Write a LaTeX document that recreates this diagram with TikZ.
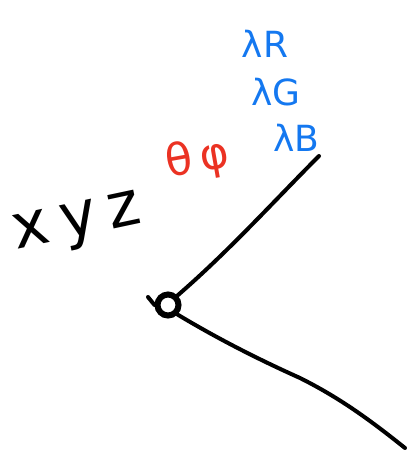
\documentclass[tikz,border=0pt]{standalone}
\usepackage{fontspec}
\setmainfont{DejaVu Sans}
\definecolor{penred}{RGB}{235,50,35}
\definecolor{penblue}{RGB}{20,120,240}
\begin{document}
\begin{tikzpicture}[x=1pt,y=-1pt,
  stroke/.style={line width=4pt,line cap=round,line join=round},
  lbl/.style={inner sep=0pt,font=\fontsize{36}{36}\selectfont}]
\useasboundingbox (0,0) rectangle (410,456);
\node[lbl,rotate=12,font=\fontsize{62}{62}\selectfont] (xyz) at (78,226) {x\hspace{12pt}y\hspace{12pt}z};
\node[lbl,text=penred,rotate=10,font=\fontsize{44}{44}\selectfont] (angles) at (198,160) {θ\,φ};
\node[lbl,text=penblue] (lr) at (265,44) {λR};
\node[lbl,text=penblue] (lg) at (276,92) {λG};
\node[lbl,text=penblue] (lb) at (296,138) {λB};
\node[draw,circle,line width=6pt,minimum size=21pt,inner sep=0pt] (c) at (168,305) {};
\coordinate (tick) at (148,297);
\coordinate (top) at (319,156);
\coordinate (mid) at (300,378);
\coordinate (end) at (405,448);
\draw[stroke] (tick) -- (c.west);
\draw[stroke] (c.north east) .. controls (230,250) and (275,200) .. (top);
\draw[stroke] (c.south east) .. controls (220,340) and (260,360) .. (mid) .. controls (340,398) and (370,420) .. (end);
\end{tikzpicture}
\end{document}
